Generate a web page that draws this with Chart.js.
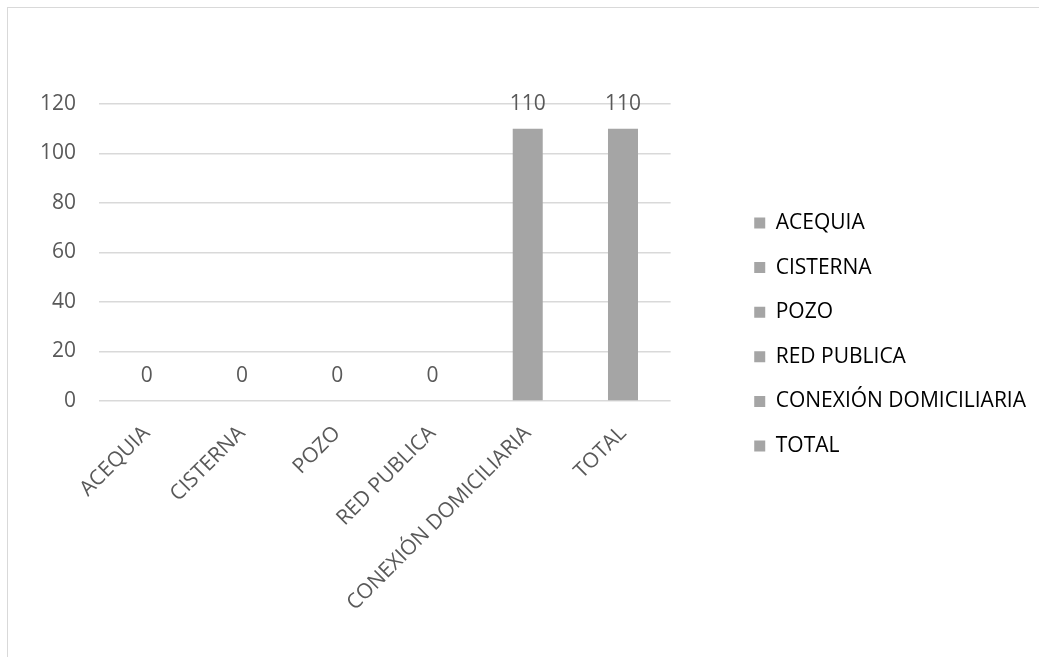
<!DOCTYPE html>
<html>
<head>
<meta charset="utf-8">
<script src="https://cdn.jsdelivr.net/npm/chart.js@4/dist/chart.umd.min.js"></script>
<style>
  html, body { margin: 0; padding: 0; background: #fff; overflow: hidden; }
  #frame { position: absolute; left: 7px; top: 7px; width: 1100px; height: 700px; border: 1px solid #d9d9d9; }
  #wrap { position: absolute; left: 0; top: 0; width: 1039px; height: 657px; }
</style>
</head>
<body>
<div id="frame"></div>
<div id="wrap"><canvas id="chart"></canvas></div>
<script>
// categorías y valores del gráfico
const categories = ["ACEQUIA", "CISTERNA", "POZO", "RED PUBLICA", "CONEXIÓN DOMICILIARIA", "TOTAL"];
const values = [0, 0, 0, 0, 110, 110];
const yTicks = [0, 20, 40, 60, 80, 100, 120];

const gray = '#a5a5a5';
const textColor = '#595959';
const font = { family: "'Open Sans', sans-serif", size: 21 };

// etiquetas de datos encima de cada barra
const barLabels = {
    id: 'barLabels',
    afterDatasetsDraw(chart) {
        const ctx = chart.ctx;
        const meta = chart.getDatasetMeta(0);
        ctx.save();
        ctx.fillStyle = textColor;
        ctx.font = font.size + "px " + font.family;
        ctx.textAlign = 'center';
        ctx.textBaseline = 'middle';
        meta.data.forEach((bar, i) => {
            ctx.fillText(String(values[i]), bar.x, bar.y - 25);
        });
        ctx.restore();
    }
};

// ejes "vacíos" solo para reservar espacio
const spacer = (pos, size) => ({
    position: pos,
    display: true,
    grid: { display: false },
    border: { display: false },
    ticks: { display: false },
    afterFit: s => { if (pos === 'top') s.height = size; else s.width = size; }
});

const ctx = document.getElementById('chart').getContext('2d');
new Chart(ctx, {
    type: 'bar',
    data: {
        labels: categories,
        datasets: [{
            data: values,
            backgroundColor: gray,
            barPercentage: 0.315,
            categoryPercentage: 1
        }]
    },
    options: {
        responsive: true,
        maintainAspectRatio: false,
        animation: false,
        layout: { padding: { top: 12, right: 3, bottom: 0, left: 0 } },
        plugins: {
            tooltip: { enabled: false },
            legend: {
                position: 'right',
                maxWidth: 400,
                labels: {
                    color: textColor,
                    font: font,
                    boxWidth: 11,
                    boxHeight: 11,
                    padding: 23.6,
                    generateLabels: () => categories.map(c => ({
                        text: c,
                        fillStyle: gray,
                        strokeStyle: gray,
                        lineWidth: 0,
                        hidden: false
                    }))
                },
                onClick: () => {}
            }
        },
        scales: {
            x: {
                grid: { display: false },
                border: { display: false },
                ticks: {
                    color: textColor,
                    font: font,
                    minRotation: 45,
                    maxRotation: 45,
                    padding: 12,
                    autoSkip: false
                },
                afterFit: scale => { scale.height = 256; }
            },
            y: {
                min: 0,
                max: 120,
                afterBuildTicks: scale => { scale.ticks = yTicks.map(v => ({ value: v })); },
                grid: { color: '#d9d9d9', lineWidth: 1.5, drawTicks: false },
                border: { display: false },
                ticks: { color: textColor, font: font, padding: 23 },
                afterFit: scale => { scale.width = 99; }
            },
            gapRight: spacer('right', 60),
            gapTop: spacer('top', 92)
        }
    },
    plugins: [barLabels]
});
</script>
</body>
</html>
